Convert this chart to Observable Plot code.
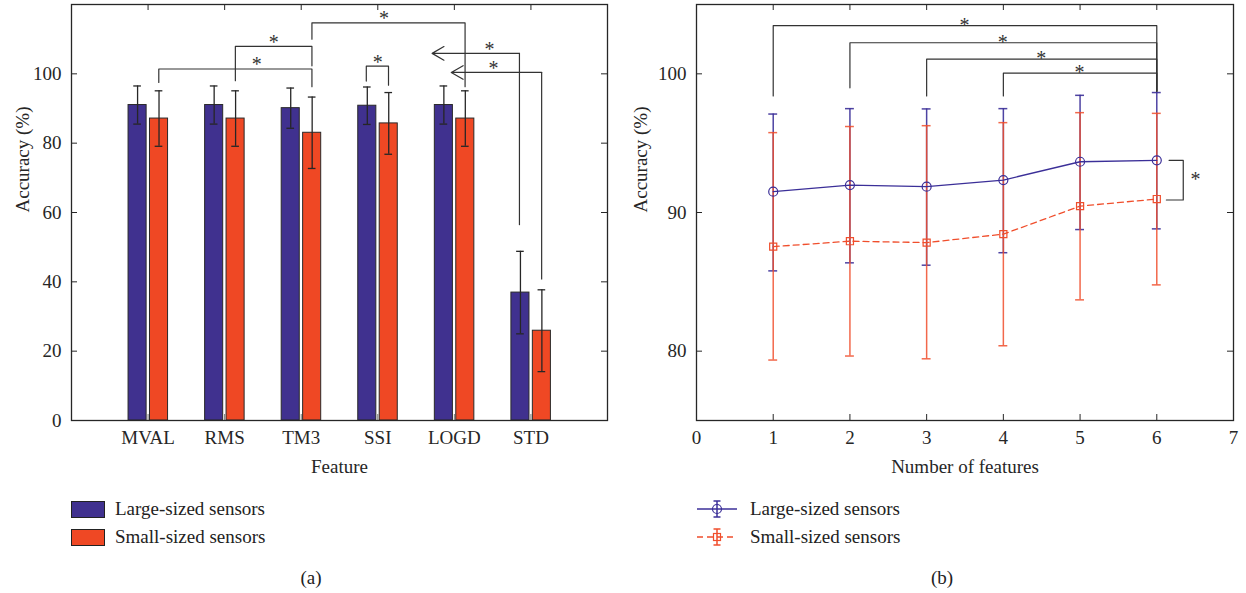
<!DOCTYPE html>
<html>
<head>
<meta charset="utf-8">
<script src="https://cdn.jsdelivr.net/npm/d3@7"></script>
<script src="https://cdn.jsdelivr.net/npm/@observablehq/plot@0.6"></script>
<style>
  body { margin: 0; background: #fff; font-family: "Liberation Serif", "Times New Roman", serif; color: #222; }
  #wrap { position: relative; width: 1246px; height: 593px; overflow: hidden; }
  .panel { position: absolute; top: 0; width: 623px; height: 485px; }
  .legrow { position: absolute; display: flex; align-items: center; font-size: 19px; height: 24px; white-space: nowrap; }
  .swatch { width: 34px; height: 17px; border: 1px solid #222; box-sizing: border-box; margin-right: 10px; }
  .caption { position: absolute; font-size: 19px; transform: translate(-50%, -50%); }
</style>
</head>
<body>
<div id="wrap">
  <div class="panel" id="pa" style="left:0"></div>
  <div class="panel" id="pb" style="left:623px"></div>
  <div id="legA"></div>
  <div id="legB"></div>
  <div class="caption" style="left:311px; top:578px">(a)</div>
  <div class="caption" style="left:942px; top:578px">(b)</div>
</div>
<script>
// ---------- Panel (a) data ----------
const features = ["MVAL", "RMS", "TM3", "SSI", "LOGD", "STD"];
const largeMean = [91.0, 91.0, 90.1, 90.8, 91.0, 36.9];
const largeErr  = [5.5, 5.5, 5.8, 5.4, 5.5, 11.9];
const smallMean = [87.1, 87.1, 83.0, 85.7, 87.1, 25.9];
const smallErr  = [8.0, 8.0, 10.3, 8.9, 8.0, 11.8];
const yTicksA = [0, 20, 40, 60, 80, 100];
const seriesNames = ["Large-sized sensors", "Small-sized sensors"];
const seriesColors = ["#40318f", "#ef4824"];
// significance brackets (x in feature-position units, y in %)
const bracketsA = [
  {x1: 1.14, x2: 3.14, y: 101.4, yL: 97.5, yR: 96.3},
  {x1: 2.14, x2: 3.14, y: 107.9, yL: 98.0, yR: 102.3},
  {x1: 3.14, x2: 5.14, y: 114.7, yL: 110.0, yR: 96.3},
  {x1: 3.85, x2: 4.14, y: 102.2, yL: 97.9, yR: 96.7}
];
const arrowsA = [
  {x: 5.85, yFrom: 56.2, yTo: 105.9, xHead: 4.71},
  {x: 6.14, yFrom: 40.5, yTo: 100.4, xHead: 4.96}
];
const starsA = [
  {x: 2.42, y: 101.4}, {x: 2.64, y: 107.9}, {x: 4.08, y: 114.7},
  {x: 4.00, y: 102.2}, {x: 5.46, y: 105.9}, {x: 5.51, y: 100.4}
];

// ---------- Panel (b) data ----------
const numFeatures = [1, 2, 3, 4, 5, 6];
const largeAcc = [91.50, 91.98, 91.86, 92.34, 93.66, 93.76];
const largeLo  = [85.79, 86.37, 86.20, 87.10, 88.77, 88.82];
const largeHi  = [97.10, 97.49, 97.47, 97.49, 98.45, 98.65];
const smallAcc = [87.54, 87.93, 87.83, 88.44, 90.46, 90.97];
const smallLo  = [79.36, 79.65, 79.45, 80.39, 83.70, 84.78];
const smallHi  = [95.76, 96.20, 96.26, 96.48, 97.20, 97.15];
const xTicksB = [0, 1, 2, 3, 4, 5, 6, 7];
const yTicksB = [80, 90, 100];
const lineColors = ["#3b2f98", "#f04e2c"];
const bracketsB = [
  {x1: 1, x2: 6, y: 103.47, yL: 98.40, yR: 98.75},
  {x1: 2, x2: 6, y: 102.24, yL: 98.99, yR: 98.75},
  {x1: 3, x2: 6, y: 101.06, yL: 98.40, yR: 98.75},
  {x1: 4, x2: 6, y: 100.05, yL: 98.40, yR: 98.75}
];
const sideBracketB = [
  {x: 6.16, y: 93.76}, {x: 6.345, y: 93.76}, {x: 6.345, y: 90.9}, {x: 6.125, y: 90.9}
];
const starsB = [
  {x: 3.5, y: 103.47, dy: -4}, {x: 4, y: 102.24, dy: -4}, {x: 4.5, y: 101.06, dy: -4},
  {x: 5, y: 100.05, dy: -4}, {x: 6.51, y: 92.33, dy: 3}
];

// ---------- helpers ----------
const ink = "#262626";
function bracketPoints(list) {
  return list.flatMap((b, i) => [
    {id: i, x: b.x1, y: b.yL}, {id: i, x: b.x1, y: b.y},
    {id: i, x: b.x2, y: b.y},  {id: i, x: b.x2, y: b.yR}
  ]);
}
const fontStyle = {fontFamily: "'Liberation Serif', 'Times New Roman', serif", fontSize: "19px", color: ink, background: "white", overflow: "visible"};

// ---------- Panel (a) ----------
const W = 623, H = 485;
const mA = {l: 71, r: 16, t: 4, b: 65};
const fwA = W - mA.l - mA.r, fhA = H - mA.t - mA.b;
const offsets = [-0.137, 0.143];
const barHalf = 0.118, capA = 0.05;
const rowsA = features.flatMap((f, i) => [
  {f, pos: i + 1, s: seriesNames[0], mean: largeMean[i], err: largeErr[i], off: offsets[0]},
  {f, pos: i + 1, s: seriesNames[1], mean: smallMean[i], err: smallErr[i], off: offsets[1]}
]);
const posA = features.map((f, i) => i + 1);

const plotA = Plot.plot({
  width: W, height: H,
  marginLeft: mA.l, marginRight: mA.r, marginTop: mA.t, marginBottom: mA.b,
  style: fontStyle,
  x: {domain: [0, 7]},
  y: {domain: [0, 120]},
  color: {domain: seriesNames, range: seriesColors},
  marks: [
    Plot.rectY(rowsA, {x1: d => d.pos + d.off - barHalf, x2: d => d.pos + d.off + barHalf, y1: 0, y2: "mean", fill: "s", stroke: "#2a2a2a", strokeWidth: 1}),
    Plot.ruleX(rowsA, {x: d => d.pos + d.off, y1: d => d.mean - d.err, y2: d => d.mean + d.err, stroke: ink, strokeWidth: 1.3}),
    Plot.ruleY(rowsA, {x1: d => d.pos + d.off - capA, x2: d => d.pos + d.off + capA, y: d => d.mean + d.err, stroke: ink, strokeWidth: 1.3}),
    Plot.ruleY(rowsA, {x1: d => d.pos + d.off - capA, x2: d => d.pos + d.off + capA, y: d => d.mean - d.err, stroke: ink, strokeWidth: 1.3}),
    Plot.line(bracketPoints(bracketsA), {x: "x", y: "y", z: "id", stroke: "#333", strokeWidth: 1.2}),
    Plot.ruleX(arrowsA, {x: "x", y1: "yFrom", y2: "yTo", stroke: "#333", strokeWidth: 1.2}),
    Plot.arrow(arrowsA, {x1: "x", y1: "yTo", x2: "xHead", y2: "yTo", stroke: "#333", strokeWidth: 1.2, headLength: 17, headAngle: 60}),
    Plot.text(starsA, {x: "x", y: "y", text: () => "*", dy: -4, fontSize: 20, fill: "#333"}),
    // inward ticks
    Plot.tickY(yTicksA, {y: d => d, insetRight: fwA - 6, stroke: ink}),
    Plot.tickY(yTicksA, {y: d => d, insetLeft: fwA - 6, stroke: ink}),
    Plot.tickX(posA, {x: d => d, insetBottom: fhA - 6, stroke: ink}),
    Plot.tickX(posA, {x: d => d, insetTop: fhA - 6, stroke: "#777"}),
    Plot.axisY({ticks: yTicksA, tickSize: 0, tickPadding: 10, label: null}),
    Plot.axisX({ticks: posA, tickSize: 0, tickPadding: 10, tickFormat: d => features[d - 1], label: null}),
    Plot.text(["Feature"], {frameAnchor: "bottom", dy: 52, text: d => d, fontSize: 19}),
    Plot.text(["Accuracy (%)"], {frameAnchor: "left", dx: -49, rotate: -90, text: d => d, fontSize: 19}),
    Plot.frame({stroke: ink, strokeWidth: 1.3})
  ]
});
document.getElementById("pa").appendChild(plotA);

// ---------- Panel (b) ----------
const mB = {l: 73, r: 13, t: 4, b: 65};
const fwB = W - mB.l - mB.r, fhB = H - mB.t - mB.b;
const capB = 0.058;
const ptsL = numFeatures.map((x, i) => ({x, y: largeAcc[i], lo: largeLo[i], hi: largeHi[i]}));
const ptsS = numFeatures.map((x, i) => ({x, y: smallAcc[i], lo: smallLo[i], hi: smallHi[i]}));

function errMarks(pts, color, opacity) {
  return [
    Plot.ruleX(pts, {x: "x", y1: "lo", y2: "hi", stroke: color, strokeWidth: 1.5, strokeOpacity: opacity}),
    Plot.ruleY(pts, {x1: d => d.x - capB, x2: d => d.x + capB, y: "hi", stroke: color, strokeWidth: 1.5, strokeOpacity: opacity}),
    Plot.ruleY(pts, {x1: d => d.x - capB, x2: d => d.x + capB, y: "lo", stroke: color, strokeWidth: 1.5, strokeOpacity: opacity})
  ];
}

const plotB = Plot.plot({
  width: W, height: H,
  marginLeft: mB.l, marginRight: mB.r, marginTop: mB.t, marginBottom: mB.b,
  style: fontStyle,
  x: {domain: [0, 7]},
  y: {domain: [75, 105]},
  marks: [
    ...errMarks(ptsL, lineColors[0], 0.9),
    ...errMarks(ptsS, lineColors[1], 0.85),
    Plot.line(ptsL, {x: "x", y: "y", stroke: lineColors[0], strokeWidth: 1.3}),
    Plot.dot(ptsL, {x: "x", y: "y", r: 4.5, stroke: lineColors[0], fill: "none", strokeWidth: 1.2}),
    Plot.line(ptsS, {x: "x", y: "y", stroke: lineColors[1], strokeWidth: 1.3, strokeDasharray: "6,4"}),
    Plot.dot(ptsS, {x: "x", y: "y", r: 4, symbol: "square", stroke: lineColors[1], fill: "none", strokeWidth: 1.2}),
    Plot.line(bracketPoints(bracketsB), {x: "x", y: "y", z: "id", stroke: "#333", strokeWidth: 1.2}),
    Plot.line(sideBracketB, {x: "x", y: "y", stroke: "#333", strokeWidth: 1.2}),
    Plot.text(starsB, {x: "x", y: "y", dy: "dy", text: () => "*", fontSize: 20, fill: "#333"}),
    // inward ticks
    Plot.tickY(yTicksB, {y: d => d, insetRight: fwB - 6, stroke: ink}),
    Plot.tickY(yTicksB, {y: d => d, insetLeft: fwB - 6, stroke: ink}),
    Plot.tickX(xTicksB, {x: d => d, insetBottom: fhB - 6, stroke: ink}),
    Plot.tickX(xTicksB, {x: d => d, insetTop: fhB - 6, stroke: ink}),
    Plot.axisY({ticks: yTicksB, tickSize: 0, tickPadding: 10, label: null}),
    Plot.axisX({ticks: xTicksB, tickSize: 0, tickPadding: 10, tickFormat: d => String(d), label: null}),
    Plot.text(["Number of features"], {frameAnchor: "bottom", dy: 52, text: d => d, fontSize: 19}),
    Plot.text(["Accuracy (%)"], {frameAnchor: "left", dx: -56, rotate: -90, text: d => d, fontSize: 19}),
    Plot.frame({stroke: ink, strokeWidth: 1.3})
  ]
});
document.getElementById("pb").appendChild(plotB);

// ---------- Legends ----------
const legA = document.getElementById("legA");
seriesNames.forEach((name, i) => {
  const row = document.createElement("div");
  row.className = "legrow";
  row.style.left = "71px";
  row.style.top = (497 + i * 28) + "px";
  row.innerHTML = `<div class="swatch" style="background:${seriesColors[i]}"></div><span>${name}</span>`;
  legA.appendChild(row);
});
const legB = document.getElementById("legB");
seriesNames.forEach((name, i) => {
  const c = lineColors[i];
  const marker = i === 0
    ? `<circle cx="20" cy="12" r="4.5" fill="none" stroke="${c}" stroke-width="1.2"/>`
    : `<rect x="16.5" y="8.5" width="7" height="7" fill="none" stroke="${c}" stroke-width="1.2"/>`;
  const dash = i === 0 ? "" : `stroke-dasharray="6,4"`;
  const row = document.createElement("div");
  row.className = "legrow";
  row.style.left = "697px";
  row.style.top = (497 + i * 28) + "px";
  row.innerHTML = `<svg width="40" height="24" style="margin-right:13px">
      <line x1="0" y1="12" x2="40" y2="12" stroke="${c}" stroke-width="1.3" ${dash}/>
      <line x1="20" y1="4" x2="20" y2="20" stroke="${c}" stroke-width="1.5"/>
      <line x1="16.5" y1="4" x2="23.5" y2="4" stroke="${c}" stroke-width="1.5"/>
      <line x1="16.5" y1="20" x2="23.5" y2="20" stroke="${c}" stroke-width="1.5"/>
      ${marker}</svg><span>${name}</span>`;
  legB.appendChild(row);
});
</script>
</body>
</html>
